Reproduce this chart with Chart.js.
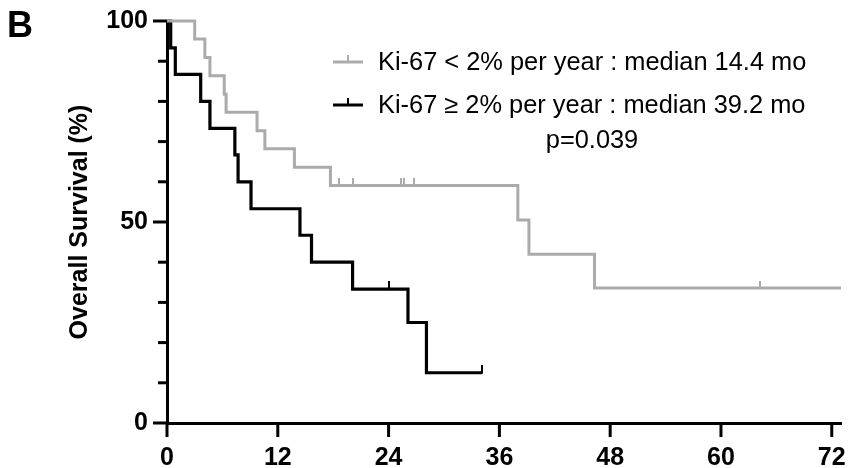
<!DOCTYPE html>
<html lang="en">
<head>
  <meta charset="UTF-8" />
  <title>Overall Survival - Ki-67</title>
  <script src="https://cdn.jsdelivr.net/npm/chart.js"></script>
  <style>
    html, body { margin: 0; padding: 0; background: #fff; }
    .chart-container { width: 850px; height: 468px; position: relative; }
  </style>
</head>
<body>
  <div class="chart-container">
    <canvas id="survivalChart" width="850" height="468"></canvas>
  </div>

  <script>
    // Ki-67 < 2% per year (grey curve)
    const greyMonths = [0, 3.0, 4.1, 4.65, 6.2, 6.4, 9.75, 10.6, 13.8, 17.7, 38.0, 39.2, 46.3, 73];
    const greySurvival = [100, 95.5, 90.9, 86.4, 81.8, 77.3, 72.7, 68.2, 63.6, 59.1, 50.5, 42.0, 33.6, 33.6];
    const greyCensorMonths = [18.6, 20.1, 25.3, 25.7, 26.8, 64.2];
    const greyCensorSurvival = [59.1, 59.1, 59.1, 59.1, 59.1, 33.6];

    // Ki-67 >= 2% per year (black curve)
    const blackMonths = [0, 0.4, 0.9, 3.65, 4.65, 7.35, 7.7, 9.1, 14.4, 15.65, 20.1, 26.1, 28.1, 34.1];
    const blackSurvival = [100, 93.3, 86.7, 80, 73.3, 66.7, 60, 53.3, 46.7, 40, 33.3, 25, 12.5, 12.5];
    const blackCensorMonths = [24.0, 34.1];
    const blackCensorSurvival = [33.3, 12.5];

    const xTickValues = [0, 12, 24, 36, 48, 60, 72];
    const yTickValues = [0, 10, 20, 30, 40, 50, 60, 70, 80, 90, 100];
    const yTickLabels = ['0', '', '', '', '', '50', '', '', '', '', '100'];
    const legendLabels = ['Ki-67 < 2% per year : median 14.4 mo', 'Ki-67 \u2265 2% per year : median 39.2 mo'];
    const pValueText = 'p=0.039';
    const panelLetter = 'B';

    const GREY = '#ababab';
    const BLACK = '#000000';
    const FONT = '"Liberation Sans", Arial, sans-serif';

    function toPoints(xs, ys) {
      return xs.map((x, i) => ({ x: x, y: ys[i] }));
    }

    // small vertical tick sitting on top of the curve (censored patient)
    function censorTick(color, width, height) {
      const c = document.createElement('canvas');
      c.width = width;
      c.height = height * 2;
      const g = c.getContext('2d');
      g.fillStyle = color;
      g.fillRect(0, 0, width, height + 1);
      return c;
    }

    // axis ticks + legend + panel letter
    const decorPlugin = {
      id: 'decor',
      afterDraw(chart) {
        const ctx = chart.ctx;
        const xs = chart.scales.x;
        const ys = chart.scales.y;
        const area = chart.chartArea;
        ctx.save();
        ctx.fillStyle = BLACK;

        // y ticks: long where labelled, short in between
        yTickValues.forEach((v, i) => {
          const py = ys.getPixelForValue(v);
          const len = yTickLabels[i] ? 14 : 9;
          ctx.fillRect(area.left - len, py - 1.5, len, 3);
        });
        // x ticks pointing down
        xTickValues.forEach(v => {
          const px = xs.getPixelForValue(v);
          ctx.fillRect(px - 1.5, area.bottom, 3, 14);
        });

        // legend
        const rows = [
          { color: GREY, y: 62, text: legendLabels[0] },
          { color: BLACK, y: 105, text: legendLabels[1] }
        ];
        ctx.font = '25.4px ' + FONT;
        ctx.textBaseline = 'middle';
        ctx.textAlign = 'left';
        rows.forEach(r => {
          ctx.fillStyle = r.color;
          ctx.fillRect(333, r.y - 1.5, 30, 3);
          ctx.fillRect(347, r.y - 7, 2, 6);
          ctx.fillStyle = BLACK;
          ctx.fillText(r.text, 378, r.y + 1);
        });
        ctx.textAlign = 'center';
        ctx.fillText(pValueText, 592, 141);

        ctx.font = 'bold 36px ' + FONT;
        ctx.textAlign = 'left';
        ctx.textBaseline = 'alphabetic';
        ctx.fillText(panelLetter, 7, 37);
        ctx.restore();
      }
    };

    const tickFont = { family: FONT, size: 25, weight: 'bold' };

    const ctx = document.getElementById('survivalChart').getContext('2d');
    new Chart(ctx, {
      type: 'line',
      data: {
        datasets: [
          {
            label: legendLabels[0],
            data: toPoints(greyMonths, greySurvival),
            borderColor: GREY,
            borderWidth: 3,
            stepped: 'before',
            pointRadius: 0,
            fill: false,
            clip: false
          },
          {
            type: 'scatter',
            label: 'grey censored',
            data: toPoints(greyCensorMonths, greyCensorSurvival),
            pointStyle: censorTick(GREY, 2, 7),
            pointRadius: 7,
            clip: false
          },
          {
            label: legendLabels[1],
            data: toPoints(blackMonths, blackSurvival),
            borderColor: BLACK,
            borderWidth: 3.2,
            stepped: 'before',
            pointRadius: 0,
            fill: false,
            clip: false
          },
          {
            type: 'scatter',
            label: 'black censored',
            data: toPoints(blackCensorMonths, blackCensorSurvival),
            pointStyle: censorTick(BLACK, 2, 8),
            pointRadius: 8,
            clip: false
          }
        ]
      },
      options: {
        responsive: false,
        animation: false,
        layout: { padding: { top: 21, right: 4, left: 0, bottom: 0 } },
        plugins: {
          legend: { display: false },
          tooltip: { enabled: false }
        },
        scales: {
          x: {
            type: 'linear',
            min: 0,
            max: 73,
            afterBuildTicks: s => { s.ticks = xTickValues.map(v => ({ value: v })); },
            afterFit: s => { s.height = 45; s.paddingLeft = 0; s.paddingRight = 0; },
            grid: { display: true, drawOnChartArea: false, drawTicks: true, tickLength: 14, tickColor: 'rgba(0,0,0,0)' },
            border: { display: true, color: BLACK, width: 3 },
            ticks: { color: '#000', font: tickFont, padding: 6, maxRotation: 0 }
          },
          y: {
            type: 'linear',
            min: 0,
            max: 100,
            afterBuildTicks: s => { s.ticks = yTickValues.map(v => ({ value: v })); },
            afterFit: s => { s.width = 167; },
            grid: { display: true, drawOnChartArea: false, drawTicks: true, tickLength: 14, tickColor: 'rgba(0,0,0,0)' },
            border: { display: true, color: BLACK, width: 3 },
            ticks: {
              color: '#000',
              font: tickFont,
              padding: 5,
              callback: (value, index) => yTickLabels[index]
            },
            title: {
              display: true,
              text: 'Overall Survival (%)',
              color: '#000',
              font: { family: FONT, size: 25, weight: 'bold' },
              padding: { top: 65, bottom: 0 }
            }
          }
        }
      },
      plugins: [decorPlugin]
    });
  </script>
</body>
</html>
